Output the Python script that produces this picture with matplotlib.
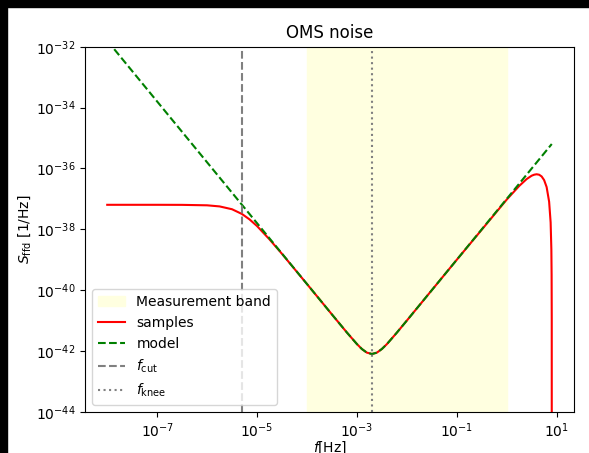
import matplotlib
matplotlib.use("Agg")
import matplotlib.pyplot as plt
from matplotlib.patches import Rectangle
from matplotlib.ticker import NullLocator, FixedLocator

# ---- data ----
model_f = [1e-8, 1e-7, 1e-6, 1e-5, 1e-4, 3.16e-4, 6.31e-4, 1e-3, 1.26e-3, 1.58e-3,
           2e-3, 2.51e-3, 3.16e-3, 3.98e-3, 6.31e-3, 1e-2, 1e-1, 1.0, 8.0]
model_S = [1.58e-32, 1.58e-34, 1.58e-36, 1.58e-38, 1.58e-40, 1.58e-41, 4.01e-42, 1.68e-42,
           1.15e-42, 8.77e-43, 7.89e-43, 8.73e-43, 1.15e-42, 1.66e-42, 3.97e-42, 9.89e-42,
           9.87e-40, 9.87e-38, 6.32e-36]

samples_f = [1e-8, 1e-7, 3.16e-7, 1e-6, 1.78e-6, 3.16e-6, 5e-6, 7.08e-6, 1e-5, 1.78e-5,
             3.16e-5, 1e-4, 3.16e-4, 6.31e-4, 1e-3, 1.26e-3, 1.58e-3, 2e-3, 2.51e-3,
             3.16e-3, 3.98e-3, 6.31e-3, 1e-2, 1e-1, 1.0, 1.78, 2.51, 3.16, 3.55, 3.98,
             4.47, 5.01, 5.62, 6.31, 7.08, 7.59, 7.85, 7.94, 7.99, 8.0]
samples_S = [6.34e-38, 6.34e-38, 6.31e-38, 6.10e-38, 5.61e-38, 4.53e-38, 3.16e-38, 2.10e-38,
             1.27e-38, 4.62e-39, 1.55e-39, 1.58e-40, 1.58e-41, 4.01e-42, 1.68e-42, 1.15e-42,
             8.77e-43, 7.89e-43, 8.73e-43, 1.15e-42, 1.66e-42, 3.97e-42, 9.89e-42, 9.86e-40,
             9.38e-38, 2.64e-37, 4.45e-37, 5.73e-37, 6.19e-37, 6.40e-37, 6.18e-37, 5.43e-37,
             4.12e-37, 2.43e-37, 8.02e-38, 1.68e-38, 2.15e-39, 3.18e-40, 1.17e-41, 1e-46]

band = [1e-4, 1.0]
f_cut = 5e-6
f_knee = 2e-3
x_ticks = [1e-7, 1e-5, 1e-3, 1e-1, 1e1]
y_lim = [1e-44, 1e-32]

# ---- figure ----
W, H = 589, 453
fig = plt.figure(figsize=(W / 100, H / 100), dpi=100)
fig.patches.append(Rectangle((0, 1 - 7 / H), 1, 7 / H, transform=fig.transFigure,
                             color="black", zorder=-10))
fig.patches.append(Rectangle((0, 0), 7 / W, 1, transform=fig.transFigure,
                             color="black", zorder=-10))

ax = fig.add_axes([85 / W, (H - 411.7) / H, 489 / W, 365 / H])
ax.set_xscale("log")
ax.set_yscale("log")

ax.axvspan(band[0], band[1], color="lightyellow", label="Measurement band")
ax.plot(samples_f, samples_S, color="red", label="samples")
ax.plot(model_f, model_S, color="green", ls="--", label="model")
ax.axvline(f_cut, color="gray", ls="--", label=r"$f_\mathrm{cut}$")
ax.axvline(f_knee, color="gray", ls=":", label=r"$f_\mathrm{knee}$")

ax.set_ylim(*y_lim)
ax.xaxis.set_major_locator(FixedLocator(x_ticks))
ax.xaxis.set_minor_locator(NullLocator())
ax.yaxis.set_minor_locator(NullLocator())

ax.set_title("OMS noise")
ax.set_xlabel(r"$f$[Hz]", labelpad=0)
ax.set_ylabel(r"$S_\mathrm{ffd}$ [1/Hz]", labelpad=2)
ax.legend(loc="lower left")

fig.savefig("out.png", dpi=100)
